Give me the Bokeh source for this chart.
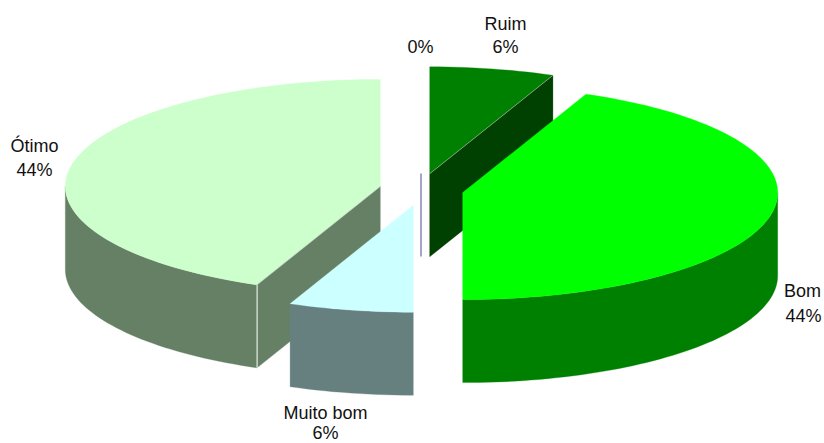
import math
from bokeh.core.properties import value
from bokeh.embed import file_html
from bokeh.models import Range1d
from bokeh.plotting import figure
from bokeh.resources import INLINE

# Survey answers, in drawing order clockwise from 12 o'clock
categories = ["", "Ruim", "Bom", "Muito bom", "Ótimo"]
responses = [0, 1, 7, 1, 7]

top_colors = ["#4A4A90", "#008000", "#00FF00", "#CCFFFF", "#CCFFCC"]
wall_colors = ["#4A4A90", "#004000", "#008000", "#668080", "#668066"]

# Projection of the exploded disc on the page, in pixels
W, H = 824, 443
CX, CY = 421, 189
RX, RY = 315, 107
DEPTH = 83
EXPLODE_X, EXPLODE_Y = 42, 16
SKEW = 0.013  # slight angular distortion of the tilted disc

# Label centres: name line and percentage line
name_pos = [None, (505, 23), (802, 290), (325, 412), (34, 145)]
pct_pos = [(420, 46), (505, 46), (803, 315), (325, 432.5), (34, 169)]

FONT = value("Liberation Sans")

p = figure(width=W, height=H, output_backend="svg", toolbar_location=None,
           x_range=Range1d(0, W), y_range=Range1d(H, 0),
           x_axis_type=None, y_axis_type=None, min_border=0,
           outline_line_color=None, background_fill_color="white")
p.grid.visible = False


def rim(ox, oy, a, drop=0.0):
    b = a + SKEW * math.sin(2 * a)
    return ox + RX * math.sin(b), oy - RY * math.cos(b) + drop


def arc(ox, oy, a0, a1, drop=0.0):
    n = max(2, int(abs(a1 - a0) / math.radians(1.5)))
    return [rim(ox, oy, a0 + (a1 - a0) * i / n, drop) for i in range(n + 1)]


def fill(points, color):
    p.patch([q[0] for q in points], [q[1] for q in points],
            fill_color=color, line_color=color, line_width=0.3)


def cut_face(ox, oy, a, color):
    e = rim(ox, oy, a)
    fill([(ox, oy), e, (e[0], e[1] + DEPTH), (ox, oy + DEPTH)], color)
    # pale seam along the top edge of the cut
    p.line([ox, e[0]], [oy, e[1]], line_color="white", line_width=0.7, line_alpha=0.6)
    return e


total = sum(responses)
angles = [0.0]
for v in responses:
    angles.append(angles[-1] + v / total * 2 * math.pi)

# Slices are painted from the back of the pie to the front
for i in [1, 0, 2, 4, 3]:
    a0, a1 = angles[i], angles[i + 1]
    mid = (a0 + a1) / 2
    ox = CX + EXPLODE_X * math.sin(mid)
    oy = CY - EXPLODE_Y * math.cos(mid)

    if responses[i] == 0:
        # an empty slice leaves only its thin inner wall
        p.line([ox - 0.5, ox - 0.5], [oy, oy + DEPTH], line_color=wall_colors[i], line_width=1)
        continue

    # outer wall, only on the front half of the rim
    w0, w1 = max(a0, math.pi / 2), min(a1, 3 * math.pi / 2)
    if w1 > w0:
        fill(arc(ox, oy, w0, w1) + arc(ox, oy, w1, w0, DEPTH), wall_colors[i])

    fill([(ox, oy)] + arc(ox, oy, a0, a1), top_colors[i])

    # inner walls that face the viewer
    if math.sin(a0) < -1e-6:
        e = cut_face(ox, oy, a0, wall_colors[i])
        p.line([e[0], e[0]], [e[1], e[1] + DEPTH], line_color="white", line_width=1)
    if math.sin(a1) > 1e-6:
        cut_face(ox, oy, a1, wall_colors[i])

# Name and percentage labels
for i, name in enumerate(categories):
    pct = f"{round(responses[i] / total * 100)}%"
    if name_pos[i] is not None:
        p.text([name_pos[i][0]], [name_pos[i][1]], text=[name], text_font=FONT,
               text_font_size="18px", text_color="#111111",
               text_align="center", text_baseline="middle")
    p.text([pct_pos[i][0]], [pct_pos[i][1]], text=[pct], text_font=FONT,
           text_font_size="18px", text_color="#111111",
           text_align="center", text_baseline="middle")

open("out.html", "w").write(file_html(p, INLINE))
